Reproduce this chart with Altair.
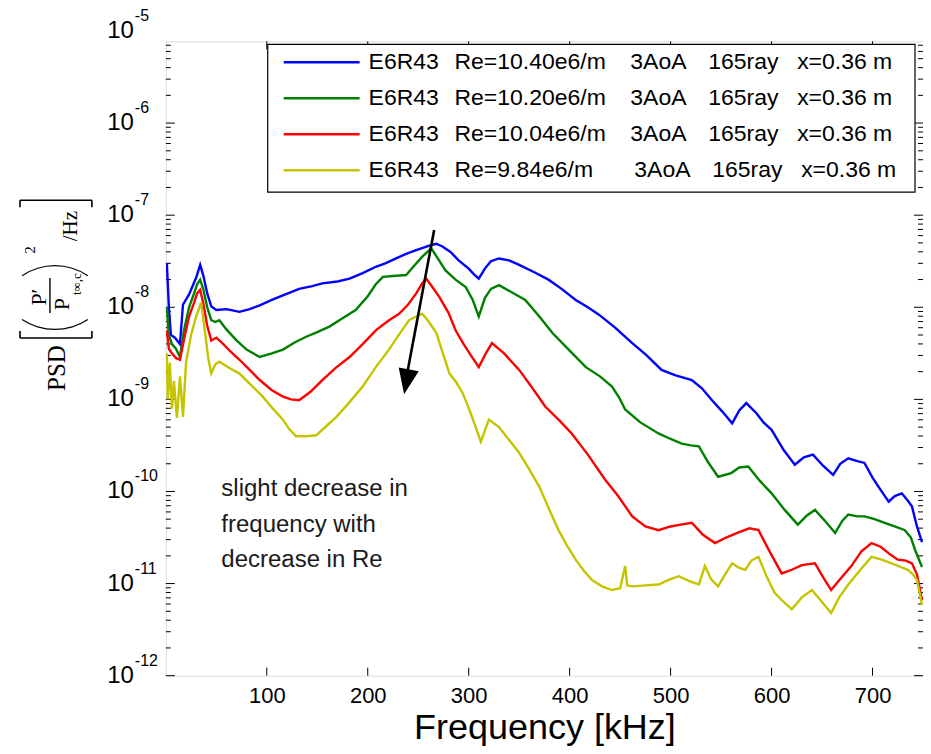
import altair as alt
import pandas as pd

# ---------------- data ----------------
series_names = ["Re=10.40e6/m", "Re=10.20e6/m", "Re=10.04e6/m", "Re=9.84e6/m"]
series_colors = ["#0000ff", "#008000", "#ff0000", "#c4c400"]

blue_f = [1, 3, 5, 9, 14, 17, 23, 30, 34, 37, 41, 45, 50, 60, 73, 83, 93, 105, 116, 132, 145, 155, 170, 182, 195,
          208, 218, 228, 238, 248, 261, 268, 274, 282, 290, 300, 305, 310, 316, 322, 330, 340, 350, 365, 379, 392,
          406, 418, 429, 445, 462, 476, 491, 505, 521, 531, 541, 551, 561, 568, 575, 585, 592, 600, 612, 623, 632,
          641, 651, 661, 668, 676, 685, 692, 700, 706, 716, 722, 729, 735, 739, 744, 749]
blue_lg = [-7.52, -8.0, -8.30, -8.33, -8.40, -7.97, -7.86, -7.68, -7.54, -7.65, -7.85, -7.99, -8.03, -8.02, -8.05,
           -8.02, -7.98, -7.92, -7.87, -7.80, -7.77, -7.74, -7.72, -7.69, -7.63, -7.56, -7.52, -7.47, -7.42, -7.38,
           -7.33, -7.31, -7.34, -7.40, -7.49, -7.58, -7.64, -7.69, -7.58, -7.50, -7.47, -7.49, -7.54, -7.62, -7.70,
           -7.80, -7.92, -8.00, -8.08, -8.22, -8.39, -8.52, -8.68, -8.74, -8.79, -8.88, -9.01, -9.13, -9.26, -9.12,
           -9.04, -9.15, -9.25, -9.33, -9.55, -9.71, -9.63, -9.60, -9.72, -9.82, -9.70, -9.64, -9.67, -9.69, -9.85,
           -9.95, -10.11, -10.05, -10.02, -10.10, -10.16, -10.38, -10.55]

green_f = [1, 3, 6, 10, 14, 18, 23, 28, 31, 34, 37, 41, 45, 49, 53, 60, 70, 80, 93, 105, 116, 128, 139, 150, 162,
           175, 188, 200, 208, 215, 225, 238, 246, 254, 263, 270, 277, 287, 297, 304, 310, 316, 322, 330, 343, 356,
           370, 383, 400, 416, 430, 442, 449, 455, 470, 488, 500, 511, 520, 528, 537, 547, 560, 568, 577, 588, 600,
           613, 626, 635, 643, 653, 663, 670, 676, 685, 692, 702, 712, 722, 732, 738, 742, 749]
green_lg = [-8.0, -8.3, -8.40, -8.45, -8.54, -8.25, -8.0, -7.85, -7.75, -7.70, -7.80, -8.0, -8.14, -8.16, -8.14,
            -8.24, -8.36, -8.46, -8.54, -8.50, -8.46, -8.38, -8.32, -8.27, -8.21, -8.12, -8.03, -7.88, -7.75, -7.67,
            -7.66, -7.65, -7.55, -7.45, -7.36, -7.48, -7.60, -7.70, -7.78, -7.92, -8.10, -7.90, -7.80, -7.76, -7.84,
            -7.92, -8.10, -8.28, -8.47, -8.65, -8.75, -8.86, -8.98, -9.11, -9.25, -9.37, -9.43, -9.48, -9.50, -9.51,
            -9.68, -9.84, -9.80, -9.74, -9.73, -9.88, -10.02, -10.20, -10.36, -10.26, -10.20, -10.32, -10.45, -10.32,
            -10.25, -10.27, -10.27, -10.30, -10.34, -10.38, -10.42, -10.50, -10.63, -10.82]

red_f = [1, 3, 6, 10, 14, 18, 23, 28, 31, 34, 37, 41, 45, 50, 56, 64, 73, 83, 93, 105, 116, 124, 132, 143, 155, 168,
         182, 195, 208, 220, 231, 240, 248, 254, 258, 264, 271, 280, 287, 295, 302, 310, 317, 323, 335, 350, 362, 376,
         390, 402, 418, 435, 448, 462, 475, 488, 500, 510, 521, 532, 544, 555, 566, 578, 587, 598, 610, 620, 630, 643,
         651, 659, 668, 679, 689, 699, 708, 717, 725, 733, 739, 744, 749]
red_lg = [-8.25, -8.45, -8.50, -8.55, -8.57, -8.35, -8.10, -7.95, -7.85, -7.81, -7.95, -8.20, -8.36, -8.33, -8.39,
          -8.48, -8.57, -8.68, -8.79, -8.90, -8.97, -9.00, -9.01, -8.92, -8.79, -8.66, -8.54, -8.40, -8.25, -8.15,
          -8.07, -7.97, -7.85, -7.74, -7.69, -7.78, -7.89, -8.06, -8.25, -8.40, -8.52, -8.65, -8.50, -8.39, -8.50,
          -8.68, -8.86, -9.08, -9.23, -9.37, -9.60, -9.87, -10.05, -10.27, -10.38, -10.42, -10.38, -10.36, -10.34,
          -10.47, -10.56, -10.50, -10.45, -10.40, -10.42, -10.65, -10.89, -10.85, -10.80, -10.78, -10.93, -11.07,
          -10.95, -10.81, -10.65, -10.56, -10.60, -10.68, -10.74, -10.75, -10.78, -10.90, -11.18]

yellow_f = [1, 2, 4, 6, 8, 11, 14, 17, 20, 25, 30, 35, 38, 42, 45, 49, 53, 63, 73, 85, 96, 106, 116, 122, 129, 139,
            149, 158, 169, 182, 195, 208, 221, 232, 241, 248, 254, 260, 268, 275, 281, 288, 294, 302, 312, 320, 330,
            340, 350, 360, 370, 380, 389, 398, 406, 414, 422, 432, 442, 450, 455, 457, 462, 475, 488, 498, 508, 518,
            528, 534, 540, 547, 554, 561, 568, 574, 580, 587, 595, 603, 612, 620, 630, 640, 650, 659, 667, 676, 688,
            699, 709, 719, 728, 735, 740, 744, 749]
yellow_lg = [-8.5, -9.0, -8.6, -9.1, -8.8, -9.2, -8.75, -9.19, -8.6, -8.3, -8.1, -7.95, -8.2, -8.55, -8.72, -8.62,
             -8.59, -8.66, -8.72, -8.85, -8.97, -9.10, -9.22, -9.32, -9.40, -9.40, -9.39, -9.30, -9.19, -9.03, -8.86,
             -8.65, -8.46, -8.28, -8.14, -8.10, -8.07, -8.15, -8.28, -8.52, -8.72, -8.82, -8.93, -9.15, -9.46, -9.22,
             -9.30, -9.44, -9.58, -9.76, -9.95, -10.20, -10.42, -10.60, -10.74, -10.86, -10.96, -11.03, -11.07,
             -11.05, -10.81, -11.02, -11.03, -11.02, -11.01, -10.96, -10.92, -10.97, -11.01, -10.81, -10.95, -11.03,
             -10.90, -10.78, -10.83, -10.85, -10.75, -10.71, -10.92, -11.10, -11.20, -11.28, -11.15, -11.07, -11.20,
             -11.32, -11.15, -11.01, -10.85, -10.71, -10.74, -10.78, -10.82, -10.85, -10.90, -10.96, -11.23]

legend_run = "E6R43"
legend_aoa = "3AoA"
legend_ray = "165ray"
legend_x = "x=0.36 m"

x_ticks = [100, 200, 300, 400, 500, 600, 700]
y_decades = [-12, -11, -10, -9, -8, -7, -6, -5]

annotation = "slight decrease in\nfrequency with\ndecrease in Re"
annot_f, annot_psd = 55, 1.45e-10
arrow_f = [265.8, 239.0]
arrow_psd = [6.9e-8, 1.9e-9]
arrow_tip_f, arrow_tip_psd = 238.3, 1.55e-9

# ---------------- build tables ----------------
rows = []
for name, fs, lg in zip(series_names, [blue_f, green_f, red_f, yellow_f],
                        [blue_lg, green_lg, red_lg, yellow_lg]):
    for f, v in zip(fs, lg):
        rows.append({"f": f, "psd": 10.0 ** v, "s": name})
df = pd.DataFrame(rows)

W, H = 758, 635
Y_TOP = 10 ** (-12 + H / 92.2)
x_scale = alt.Scale(domain=[0, 750], nice=False, zero=False)
y_scale = alt.Scale(type="log", domain=[1e-12, Y_TOP], nice=False)
FONT = "Liberation Sans"
SERIF = "Liberation Serif"

x_axis = alt.Axis(values=x_ticks, labelFontSize=22, labelFont=FONT, labelColor="black",
                  labelPadding=10, title="Frequency [kHz]", titleFontSize=36, titleFont=FONT,
                  titleFontWeight="normal", titleColor="black", titlePadding=4, ticks=False,
                  domain=False, grid=False, labelFlush=False)

X = lambda fld: alt.X(f"{fld}:Q", scale=x_scale, axis=x_axis)
Y = lambda fld: alt.Y(f"{fld}:Q", scale=y_scale, axis=None)

one = pd.DataFrame({"k": [0]})
layers = []

# inner ticks
majors = [10.0 ** d for d in y_decades if 10.0 ** d <= Y_TOP]
minors = [m * 10.0 ** d for d in y_decades for m in range(2, 10) if m * 10.0 ** d <= Y_TOP]
tmaj = pd.DataFrame({"v": majors})
tmin = pd.DataFrame({"v": minors})
for dat, ln in [(tmaj, 9), (tmin, 5)]:
    layers.append(alt.Chart(dat).mark_rule(color="black", strokeWidth=1).encode(
        y=Y("v"), x=alt.value(0), x2=alt.value(ln)))
    layers.append(alt.Chart(dat).mark_rule(color="black", strokeWidth=1).encode(
        y=Y("v"), x=alt.value(W - ln), x2=alt.value(W)))
txd = pd.DataFrame({"f": x_ticks})
layers.append(alt.Chart(txd).mark_rule(color="black", strokeWidth=1).encode(
    x=X("f"), y=alt.value(H - 8), y2=alt.value(H)))
layers.append(alt.Chart(txd).mark_rule(color="black", strokeWidth=1).encode(
    x=X("f"), y=alt.value(0), y2=alt.value(8)))

# spectra
layers.append(alt.Chart(df).mark_line(strokeWidth=2.4, clip=True).encode(
    x=X("f"), y=Y("psd"),
    color=alt.Color("s:N", scale=alt.Scale(domain=series_names, range=series_colors), legend=None),
    order=alt.Order("f:Q"),
    detail="s:N"))

# annotation
adf = pd.DataFrame({"f": [annot_f], "psd": [annot_psd], "t": [annotation]})
layers.append(alt.Chart(adf).mark_text(align="left", baseline="top", fontSize=24, font=FONT,
                                       color="#1a1a1a", lineBreak="\n", lineHeight=36).encode(
    x=X("f"), y=Y("psd"), text="t:N"))

# arrow
ardf = pd.DataFrame({"f": arrow_f, "psd": arrow_psd})
layers.append(alt.Chart(ardf).mark_line(color="black", strokeWidth=2.6).encode(x=X("f"), y=Y("psd")))
tipdf = pd.DataFrame({"f": [arrow_tip_f], "psd": [arrow_tip_psd]})
layers.append(alt.Chart(tipdf).mark_point(shape="M-0.8,-1L0.8,-1L0,1Z", filled=True, color="black",
                                          opacity=1, size=650, angle=10.4).encode(x=X("f"), y=Y("psd")))

# legend box
layers.append(alt.Chart(one).mark_rect(fill="white", stroke="black", strokeWidth=1.2).encode(
    x=alt.value(102), x2=alt.value(750), y=alt.value(3), y2=alt.value(151)))
row_y = [21, 57, 93, 129]
cols = [203, 289, 465, 543, 632]
for i, (name, col) in enumerate(zip(series_names, series_colors)):
    yy = row_y[i]
    layers.append(alt.Chart(one).mark_rule(color=col, strokeWidth=2.5).encode(
        x=alt.value(118), x2=alt.value(194), y=alt.value(yy)))
    shift = 4 if i == 3 else 0
    texts = [legend_run, name, legend_aoa, legend_ray, legend_x]
    for j, (t, cx) in enumerate(zip(texts, cols)):
        layers.append(alt.Chart(one).mark_text(text=t, align="left", baseline="middle", fontSize=23,
                                               font=FONT, color="black").encode(
            x=alt.value(cx + (shift if j >= 2 else 0)), y=alt.value(yy)))

# y tick labels (10 with superscript exponent)
ylab = pd.DataFrame({"v": [10.0 ** d for d in y_decades], "e": [str(d) for d in y_decades]})
layers.append(alt.Chart(ylab).mark_text(text="10", align="right", baseline="middle", fontSize=24,
                                        font=FONT, color="black").encode(y=Y("v"), x=alt.value(-32)))
layers.append(alt.Chart(ylab).mark_text(align="left", baseline="middle", fontSize=16, dy=-15,
                                        font=FONT, color="black").encode(y=Y("v"), x=alt.value(-31),
                                                                         text="e:N"))

# y title composed of pieces
def rtext(t, x, y, size, font=SERIF):
    return alt.Chart(one).mark_text(text=t, angle=270, align="center", baseline="middle",
                                    fontSize=size, font=font, color="black").encode(
        x=alt.value(x), y=alt.value(y))

layers += [
    rtext("PSD", -109, 327, 25),
    rtext("P\u2032", -127, 256, 22),
    rtext("P", -104, 263, 22),
    rtext("t\u221e,c", -89, 243, 13),
    rtext("2", -136, 209, 15),
    rtext("/Hz", -95, 185, 21),
]
def hrule(x1, x2, y, w=1.6):
    return alt.Chart(one).mark_rule(color="black", strokeWidth=w).encode(
        x=alt.value(x1), x2=alt.value(x2), y=alt.value(y))
def vrule(x, y1, y2, w=1.6):
    return alt.Chart(one).mark_rule(color="black", strokeWidth=w).encode(
        x=alt.value(x), y=alt.value(y1), y2=alt.value(y2))
def arc(cx, cy, t1, t2):
    return alt.Chart(one).mark_arc(radius=60, radius2=58.8, theta=t1, theta2=t2, color="black").encode(
        x=alt.value(cx), y=alt.value(cy))
layers += [
    vrule(-116, 237, 272, 1.4),
    hrule(-146, -74, 297), vrule(-146, 290, 297), vrule(-74, 290, 297),
    hrule(-146, -74, 159), vrule(-146, 159, 166), vrule(-74, 159, 166),
    arc(-111, 229, 2.554, 3.730),
    arc(-111, 284, 5.695, 6.871),
]

chart = alt.layer(*layers).properties(
    width=W, height=H,
    autosize=alt.AutoSizeParams(type="none"),
    padding={"left": 158, "top": 33, "right": 0, "bottom": 70},
).configure_view(stroke="black", strokeWidth=1.2).configure(background="white")

chart.save("out.html", embed_options={"renderer": "svg", "actions": False})
